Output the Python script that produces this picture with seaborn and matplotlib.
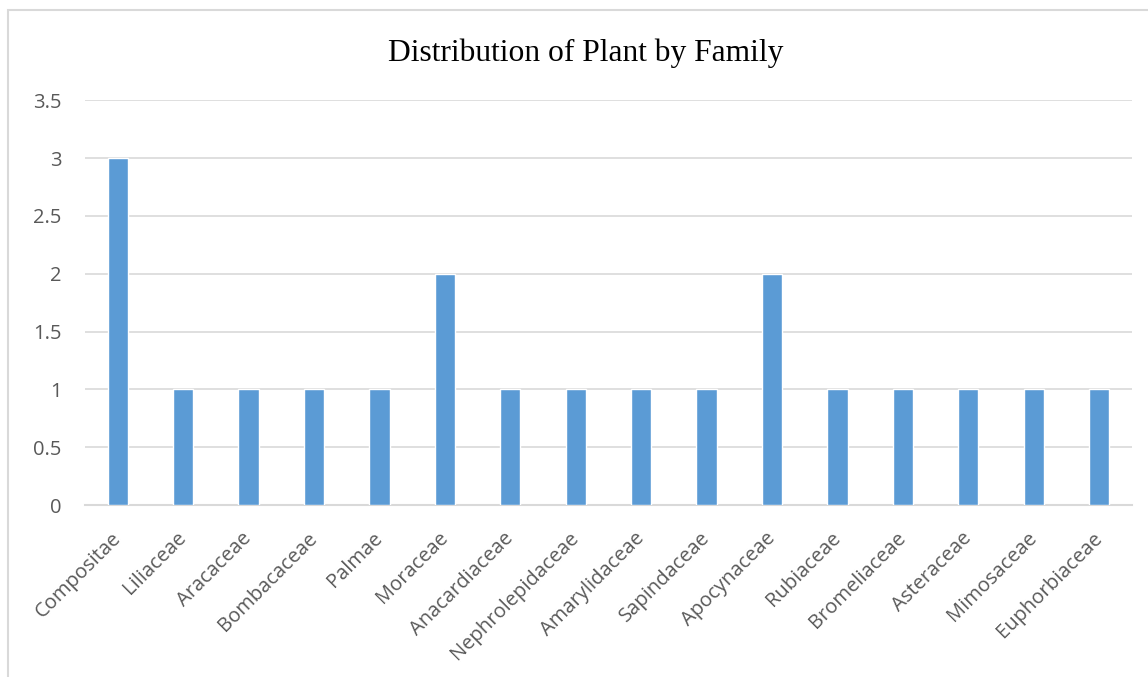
import matplotlib
matplotlib.use("Agg")
import matplotlib.pyplot as plt
import matplotlib.transforms as mtransforms
import pandas as pd
import seaborn as sns
from matplotlib.patches import Rectangle

families = ["Compositae", "Liliaceae", "Aracaceae", "Bombacaceae", "Palmae",
            "Moraceae", "Anacardiaceae", "Nephrolepidaceae", "Amarylidaceae",
            "Sapindaceae", "Apocynaceae", "Rubiaceae", "Bromeliaceae",
            "Asteraceae", "Mimosaceae", "Euphorbiaceae"]
counts = [3, 1, 1, 1, 1, 2, 1, 1, 1, 1, 2, 1, 1, 1, 1, 1]
yticks = [0, 0.5, 1, 1.5, 2, 2.5, 3, 3.5]
ytick_labels = ["0", "0.5", "1", "1.5", "2", "2.5", "3", "3.5"]

sns.set_theme(style="white")
plt.rcParams["font.family"] = ["Open Sans", "DejaVu Sans"]

df = pd.DataFrame({"Family": families, "Count": counts})

fig = plt.figure(figsize=(11.48, 6.77), dpi=100)
ax = fig.add_axes([0.074, 0.254, 0.912, 0.598])

sns.barplot(data=df, x="Family", y="Count", order=families, color="#5B9BD5",
            width=0.31, saturation=1, ax=ax, zorder=3)

ax.set_ylim(0, 3.5)
ax.set_xlim(-0.5, len(families) - 0.5)
ax.set_yticks(yticks)
ax.set_yticklabels(ytick_labels)
ax.yaxis.grid(True, color="#D9D9D9", linewidth=1.2, zorder=0)
ax.set_axisbelow(True)
for side in ["top", "right", "left"]:
    ax.spines[side].set_visible(False)
ax.spines["bottom"].set_color("#D9D9D9")
ax.spines["bottom"].set_linewidth(1.5)
ax.tick_params(axis="both", length=0, colors="#595959", labelsize=14.5)
ax.tick_params(axis="y", pad=17)
ax.tick_params(axis="x", pad=13)
# nudge rotated labels so their end sits just right of the tick, as in Excel
shift = mtransforms.ScaledTranslation(-7 / 100, -5 / 100, fig.dpi_scale_trans)
for lbl in ax.get_xticklabels():
    lbl.set_rotation(45)
    lbl.set_ha("right")
    lbl.set_rotation_mode("anchor")
    lbl.set_transform(lbl.get_transform() + shift)
ax.set_xlabel("")
ax.set_ylabel("")

fig.text(0.51, 0.921, "Distribution of Plant by Family", ha="center", va="center",
         fontsize=22.7, family=["Liberation Serif", "DejaVu Serif"], color="black")

fig.patches.append(Rectangle((8 / 1148, -0.1), 1.2, 1.1 - 10 / 677,
                             transform=fig.transFigure, fill=False,
                             edgecolor="#D9D9D9", linewidth=1.5))

fig.savefig("out.png", dpi=100)
